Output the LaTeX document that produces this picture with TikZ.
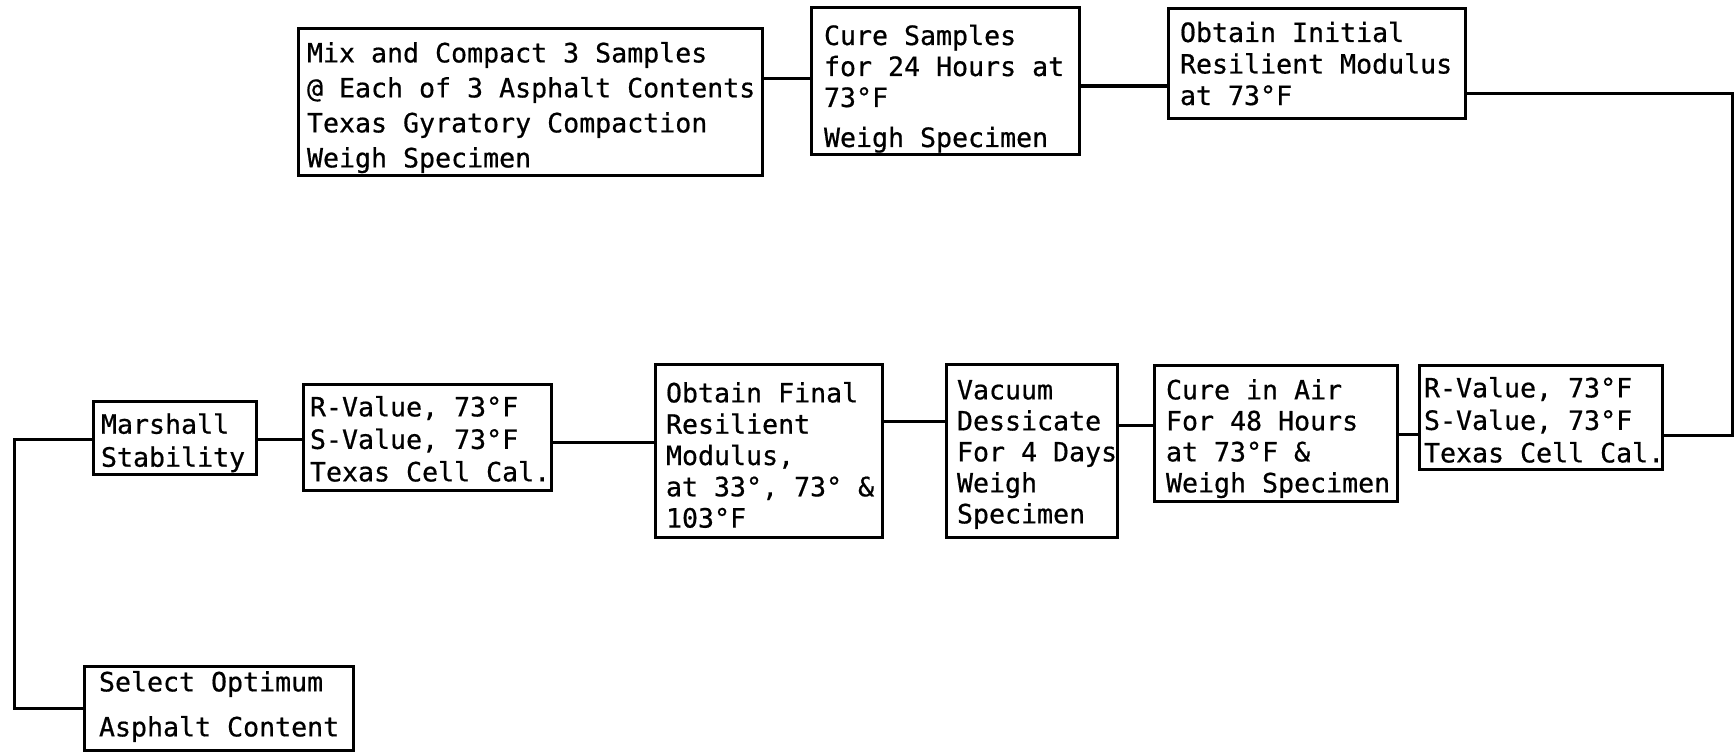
\documentclass[tikz,border=0pt]{standalone}
\usepackage{fontspec}
\newfontfamily\monoA[HyphenChar=None,FakeBold=0.6]{DejaVu Sans Mono}
\newcommand\tl[1]{\mbox{#1}}
\newcommand\hs{\hspace*{16pt}}
\newcommand\fnt[1]{\monoA\fontsize{26.6}{#1}\selectfont}
\begin{document}
\begin{tikzpicture}[x=1pt,y=-1pt,
  box/.style={draw, line width=3pt, anchor=north west, align=left,
    outer sep=0pt, inner ysep=0pt},
  link/.style={line width=3pt}]
\useasboundingbox (0,0) rectangle (1735,752);
% top row
\node[box, inner xsep=9pt, text width=446pt, text height=33.4pt, text depth=112.6pt,
  font=\fnt{35}] (mix) at (298,29)
  {\tl{Mix\hs and\hs Compact\hs 3\hs Samples}\\\tl{@\hs Each\hs of\hs 3\hs Asphalt\hs Contents}\\\tl{Texas\hs Gyratory\hs Compaction}\\\tl{Weigh\hs Specimen}};
\node[box, inner xsep=13pt, text width=242pt, text height=37pt, text depth=109pt,
  font=\fnt{31}] (cure) at (811,8)
  {\tl{Cure\hs Samples}\\\tl{for\hs 24\hs Hours\hs at}\\\tl{73°F}\\[9pt]\tl{Weigh\hs Specimen}};
\node[box, inner xsep=12pt, text width=273pt, text height=33pt, text depth=76pt,
  font=\fnt{31.5}] (init) at (1168,9)
  {\tl{Obtain\hs Initial}\\\tl{Resilient\hs Modulus}\\\tl{at\hs 73°F}};
% bottom row
\node[box, inner xsep=5pt, text width=233pt, text height=32.4pt, text depth=71.6pt,
  font=\fnt{32.5}] (rvb) at (1419,365)
  {\tl{R-Value,\hs 73°F}\\\tl{S-Value,\hs 73°F}\\\tl{Texas\hs Cell\hs Cal.}};
\node[box, inner xsep=12pt, text width=219pt, text height=34.4pt, text depth=101.6pt,
  font=\fnt{31}] (air) at (1154,365)
  {\tl{Cure\hs in\hs Air}\\\tl{For\hs 48\hs Hours}\\\tl{at\hs 73°F\hs \&}\\\tl{Weigh\hs Specimen}};
\node[box, inner xsep=11pt, text width=149pt, text height=35.4pt, text depth=137.6pt,
  font=\fnt{31}] (vac) at (946,364)
  {\tl{Vacuum}\\\tl{Dessicate}\\\tl{For\hs 4\hs Days}\\\tl{Weigh}\\\tl{Specimen}};
\node[box, inner xsep=11pt, text width=205pt, text height=38.4pt, text depth=134.6pt,
  font=\fnt{31.3}] (fin) at (655,364)
  {\tl{Obtain\hs Final}\\\tl{Resilient}\\\tl{Modulus,}\\\tl{at\hs 33°,\hs 73°\hs \&}\\\tl{103°F}};
\node[box, inner xsep=7pt, text width=234pt, text height=32.4pt, text depth=73.6pt,
  font=\fnt{32.5}] (rva) at (303,384)
  {\tl{R-Value,\hs 73°F}\\\tl{S-Value,\hs 73°F}\\\tl{Texas\hs Cell\hs Cal.}};
\node[box, inner xsep=8pt, text width=147pt, text height=32.7pt, text depth=40.3pt,
  font=\fnt{33}] (mar) at (93,401)
  {\tl{Marshall}\\\tl{Stability}};
\node[box, inner xsep=15pt, text width=239pt, text height=25.4pt, text depth=58.6pt,
  font=\fnt{45}] (sel) at (84,666)
  {\tl{Select\hs Optimum}\\\tl{Asphalt\hs Content}};
% connectors
\coordinate (c1) at (1732,93);
\coordinate (c2) at (1732,435);
\coordinate (c3) at (14,439);
\coordinate (c4) at (14,708);
\draw[link] (mix.east |- 0,79) -- (cure.west |- 0,79);
\draw[link] (cure.east |- 0,86) -- (init.west |- 0,86);
\draw[link] (init.east |- c1) -- (c1) -- (c2) -- (rvb.east |- c2);
\draw[link] (rvb.west |- 0,434) -- (air.east |- 0,434);
\draw[link] (air.west |- 0,425) -- (vac.east |- 0,425);
\draw[link] (vac.west |- 0,421) -- (fin.east |- 0,421);
\draw[link] (fin.west |- 0,442) -- (rva.east |- 0,442);
\draw[link] (rva.west |- 0,439) -- (mar.east |- 0,439);
\draw[link] (mar.west |- c3) -- (c3) -- (c4) -- (sel.west |- c4);
\end{tikzpicture}
\end{document}
